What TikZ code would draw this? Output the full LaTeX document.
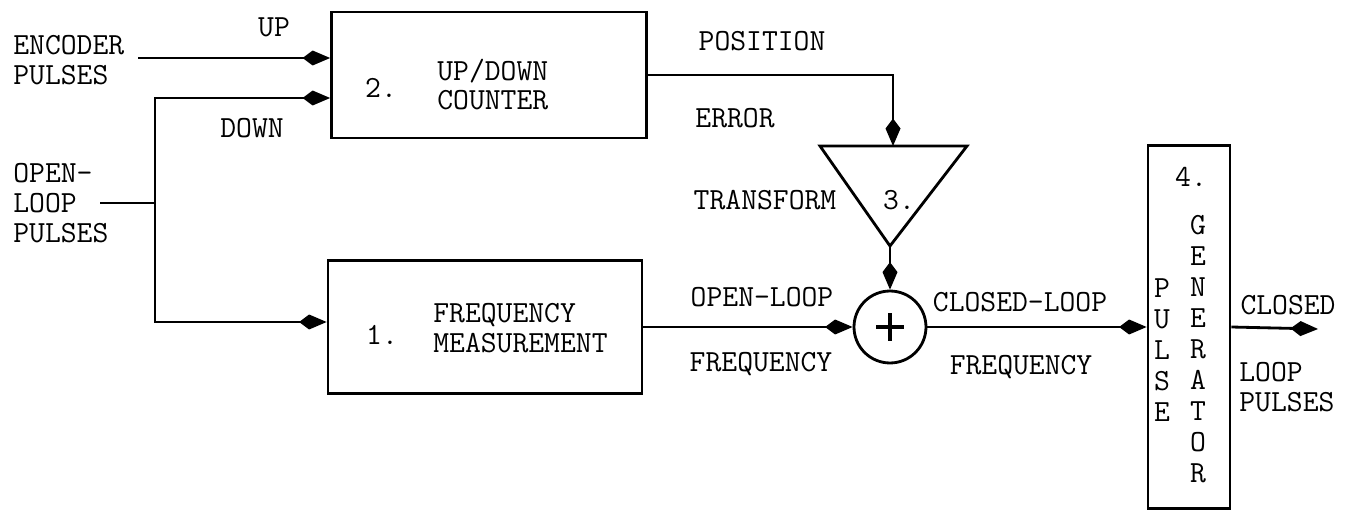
\documentclass[tikz,border=0pt]{standalone}
\usepackage{fontspec}
\usetikzlibrary{arrows.meta,positioning,calc}

\begin{document}
\begin{tikzpicture}[x=0.02cm, y=-0.02cm, >={Kite[length=0.55cm,width=0.3cm,inset=0.2cm]}, line width=1.6pt, font=\ttfamily\fontsize{17.5}{18}\selectfont, block/.style={draw, rectangle, inner sep=0pt}, lbl/.style={inner sep=0pt, align=left}]
\useasboundingbox (0,0) rectangle (1347,510);
% blocks
\node[block, minimum width=6.3cm, minimum height=2.52cm] (counter) at (489,75) {};
\node[block, minimum width=6.28cm, minimum height=2.66cm] (freq) at (485,327) {};
\node[block, minimum width=1.64cm, minimum height=7.26cm] (pgen) at (1189,327) {};
\node[draw, circle, minimum size=1.44cm, inner sep=0pt] (sum) at (890,327) {};
\coordinate (tl) at (820,146);
\coordinate (tr) at (967,146);
\coordinate (apex) at (890,246);
\draw (tl) -- (tr) -- (apex) -- cycle;
\draw[line width=2pt] (sum.center) ++(-14,0) -- ++(28,0);
\draw[line width=2pt] (sum.center) ++(0,-14) -- ++(0,28);
% block texts
\node[lbl] (n2) at (381,88) {2.};
\node[lbl, anchor=west, font=\ttfamily\fontsize{17.5}{16.5}\selectfont] (ctext) at (436,85) {UP/DOWN\\COUNTER};
\node[lbl] (n1) at (382,335) {1.};
\node[lbl, anchor=west, font=\ttfamily\fontsize{17.5}{17}\selectfont] (ftext) at (432,328) {FREQUENCY\\MEASUREMENT};
\node[lbl] (n3) at (899,200) {3.};
\node[lbl] (n4) at (1191,177) {4.};
\node[lbl, align=center, font=\ttfamily\fontsize{17.5}{17.6}\selectfont] (pulse) at (1162,350) {P\\U\\L\\S\\E};
\node[lbl, align=center, font=\ttfamily\fontsize{17.5}{17.6}\selectfont] (gener) at (1198,349) {G\\E\\N\\E\\R\\A\\T\\O\\R};
% outside labels
\node[lbl, anchor=west, font=\ttfamily\fontsize{17.5}{17}\selectfont] (enc) at (12,60) {ENCODER\\PULSES};
\node[lbl, anchor=west, font=\ttfamily\fontsize{17.5}{17}\selectfont] (open) at (12,203) {OPEN-\\LOOP\\PULSES};
\node[lbl] (up) at (274,27) {UP};
\node[lbl] (down) at (252,128) {DOWN};
\node[lbl] (pos) at (762,41) {POSITION};
\node[lbl] (err) at (735,118) {ERROR};
\node[lbl] (trans) at (765,200) {TRANSFORM};
\node[lbl] (olf) at (762,297) {OPEN-LOOP};
\node[lbl] (olf2) at (761,364) {FREQUENCY};
\node[lbl] (clf) at (1020,302) {CLOSED-LOOP};
\node[lbl] (clf2) at (1021,367) {FREQUENCY};
\node[lbl] (clp) at (1288,305) {CLOSED};
\node[lbl, anchor=west, font=\ttfamily\fontsize{17.5}{17}\selectfont] (clp2) at (1238,387) {LOOP\\PULSES};
% connectors
\coordinate (encin) at (138,58);
\draw[->] (encin) -- (encin -| counter.west);
\coordinate (olin) at (100,203);
\coordinate (bus) at (155,203);
\coordinate (dn) at (155,98);
\coordinate (fr) at (155,322);
\draw (olin) -- (bus);
\draw[->] (bus) -- (dn) -- (dn -| counter.west);
\draw[->] (bus) -- (fr) -- (fr -| freq.west);
\coordinate (xtop) at (893,146);
\draw[->] (counter.east) -| (xtop);
\draw[->] (apex) -- (sum.north);
\draw[->] (freq.east) -- (sum.west);
\draw[->] (sum.east) -- (pgen.west);
\coordinate (out) at (1318,329);
\draw[->] (pgen.east) -- (out);
\end{tikzpicture}
\end{document}
